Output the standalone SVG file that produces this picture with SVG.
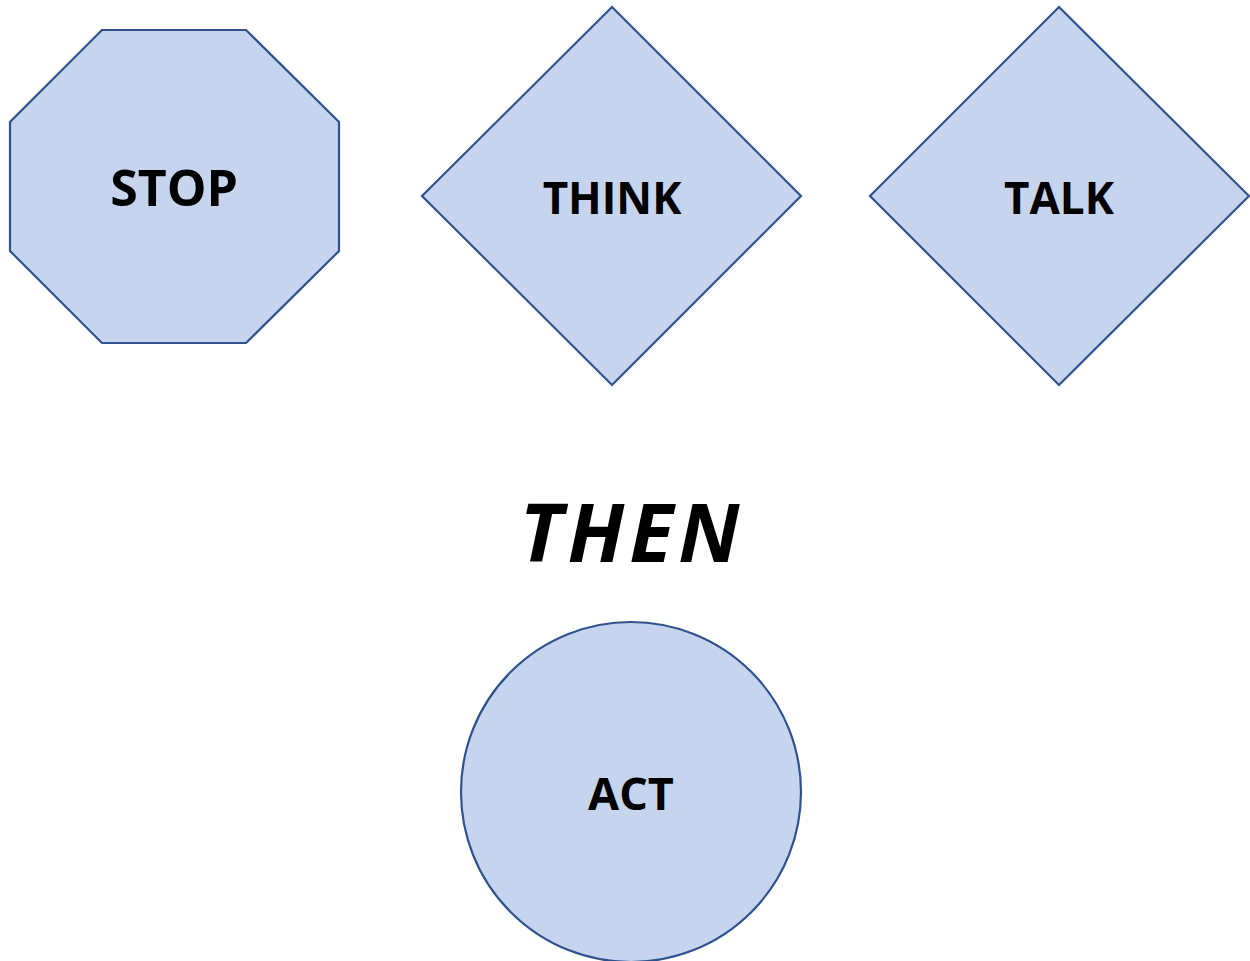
<svg xmlns="http://www.w3.org/2000/svg" width="1250" height="961" viewBox="0 0 1250 961">
<style>
.shape{fill:#C6D4EE;stroke:#2F528F;stroke-width:2.2}
.lbl{font-family:"Open Sans","Liberation Sans",sans-serif;font-weight:bold;fill:#000;text-anchor:middle}
</style>
<rect width="1250" height="961" fill="#fff"/>
<g id="stop">
<polygon class="shape" points="102,30 246,30 339,122 339,251 246,343 102,343 10,251 10,122"/>
<text class="lbl" x="174" y="206" font-size="50">STOP</text>
</g>
<g id="think">
<polygon class="shape" points="612,7 801,196 612,385 422,196"/>
<text class="lbl" x="612" y="214" font-size="44">THINK</text>
</g>
<g id="talk">
<polygon class="shape" points="1059,7 1249,196 1059,385 870,196"/>
<text class="lbl" x="1059" y="214" font-size="44">TALK</text>
</g>
<g id="then">
<text class="lbl" x="632" y="562" font-size="81" font-style="italic" letter-spacing="5">THEN</text>
</g>
<g id="act">
<circle class="shape" cx="631" cy="792" r="170"/>
<text class="lbl" x="631" y="810" font-size="45">ACT</text>
</g>
<g id="connectors"></g>
</svg>
